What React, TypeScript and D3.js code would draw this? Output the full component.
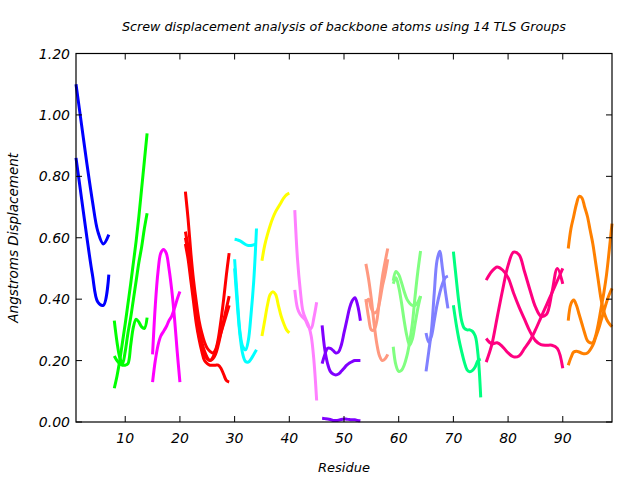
import React from "react";
import * as d3 from "d3";

const TITLE = "Screw displacement analysis of backbone atoms using 14 TLS Groups";
const X_LABEL = "Residue";
const Y_LABEL = "Angstroms Displacement";
const X_TICKS = [10, 20, 30, 40, 50, 60, 70, 80, 90];
const Y_TICKS = [0, 0.2, 0.4, 0.6, 0.8, 1.0, 1.2];

// Group residue ranges [start, end]
const groupRanges: [number, number][] = [
  [1, 7], [8, 14], [15, 20], [21, 29], [30, 34], [35, 40], [41, 45],
  [46, 53], [54, 58], [59, 64], [65, 69], [70, 75], [76, 90], [91, 99],
];
const groupColors = [
  "#0000ff", "#00ff00", "#ff00ff", "#ff0000", "#00ffff", "#ffff00", "#ff80ff",
  "#8000ff", "#ff9980", "#80ff80", "#8080ff", "#00ff80", "#ff0080", "#ff8000",
];

// Values evenly spaced across each group's residue range
const blueA = [1.10, 0.97, 0.84, 0.72, 0.62, 0.58, 0.61];
const blueB = [0.86, 0.73, 0.60, 0.48, 0.39, 0.38, 0.48];

const greenA = [0.11, 0.15, 0.20, 0.26, 0.32, 0.385, 0.45, 0.52, 0.59, 0.67, 0.76, 0.85, 0.94];
const greenB = [0.33, 0.26, 0.21, 0.19, 0.23, 0.29, 0.34, 0.40, 0.46, 0.52, 0.57, 0.63, 0.68];
const greenC = [0.215, 0.20, 0.19, 0.185, 0.185, 0.19, 0.25, 0.31, 0.335, 0.325, 0.31, 0.305, 0.34];

const magA = [0.22, 0.38, 0.49, 0.55, 0.562, 0.55, 0.50, 0.43, 0.34, 0.23, 0.13];
const magB = [0.13, 0.20, 0.25, 0.28, 0.295, 0.31, 0.33, 0.345, 0.37, 0.40, 0.425];

const redA = [0.75, 0.66, 0.55, 0.46, 0.39, 0.33, 0.29, 0.26, 0.24, 0.23, 0.225, 0.235, 0.27, 0.33, 0.40, 0.48, 0.55];
const redB = [0.62, 0.57, 0.50, 0.43, 0.36, 0.30, 0.26, 0.23, 0.21, 0.20, 0.205, 0.22, 0.25, 0.29, 0.33, 0.37, 0.41];
const redC = [0.60, 0.55, 0.48, 0.41, 0.34, 0.28, 0.245, 0.22, 0.205, 0.20, 0.21, 0.23, 0.26, 0.29, 0.32, 0.35, 0.38];
const redD = [0.58, 0.53, 0.46, 0.39, 0.32, 0.27, 0.23, 0.20, 0.19, 0.185, 0.185, 0.185, 0.185, 0.175, 0.155, 0.135, 0.13];

const cyanA = [0.595, 0.593, 0.59, 0.584, 0.578, 0.575, 0.575, 0.577, 0.58];
const cyanB = [0.53, 0.40, 0.29, 0.245, 0.235, 0.265, 0.35, 0.46, 0.63];
const cyanC = [0.50, 0.38, 0.28, 0.22, 0.197, 0.195, 0.205, 0.22, 0.235];

const yelA = [0.525, 0.575, 0.61, 0.64, 0.665, 0.685, 0.70, 0.715, 0.73, 0.74, 0.745];
const yelB = [0.28, 0.33, 0.38, 0.415, 0.424, 0.415, 0.38, 0.345, 0.32, 0.30, 0.29];

const lpA = [0.69, 0.53, 0.43, 0.36, 0.335, 0.315, 0.28, 0.20, 0.07];
const lpB = [0.43, 0.37, 0.35, 0.34, 0.33, 0.31, 0.305, 0.34, 0.39];

const purA = [0.315, 0.235, 0.19, 0.165, 0.156, 0.153, 0.156, 0.165, 0.175, 0.185, 0.192, 0.197, 0.20, 0.20, 0.20];
const purB = [0.19, 0.22, 0.24, 0.24, 0.233, 0.225, 0.228, 0.25, 0.29, 0.33, 0.37, 0.395, 0.405, 0.38, 0.33];
const purC = [0.012, 0.011, 0.01, 0.008, 0.005, 0.005, 0.006, 0.008, 0.01, 0.009, 0.008, 0.007, 0.007, 0.005, 0.004];

const salA = [0.515, 0.465, 0.40, 0.32, 0.255, 0.215, 0.20, 0.205, 0.22];
const salB = [0.40, 0.34, 0.30, 0.30, 0.33, 0.40, 0.47, 0.52, 0.565];
const salC = [0.39, 0.40, 0.37, 0.355, 0.36, 0.39, 0.44, 0.48, 0.53];

const lgA = [0.46, 0.49, 0.48, 0.455, 0.425, 0.40, 0.387, 0.38, 0.38, 0.39, 0.41];
const lgB = [0.245, 0.185, 0.165, 0.168, 0.185, 0.215, 0.26, 0.32, 0.41, 0.49, 0.557];
const lgC = [0.45, 0.47, 0.44, 0.39, 0.33, 0.28, 0.25, 0.27, 0.32, 0.37, 0.41];

const pwA = [0.165, 0.23, 0.30, 0.42, 0.525, 0.556, 0.50, 0.43, 0.37];
const pwB = [0.29, 0.26, 0.28, 0.33, 0.38, 0.42, 0.45, 0.47, 0.475];

const sgA = [0.555, 0.47, 0.39, 0.33, 0.305, 0.30, 0.30, 0.295, 0.28, 0.22, 0.08];
const sgB = [0.38, 0.32, 0.27, 0.23, 0.195, 0.17, 0.164, 0.168, 0.18, 0.20, 0.205];

const dpA = [0.462, 0.49, 0.505, 0.495, 0.47, 0.42, 0.375, 0.335, 0.295, 0.265, 0.252, 0.25, 0.25, 0.24, 0.175];
const dpB = [0.195, 0.25, 0.34, 0.43, 0.51, 0.553, 0.545, 0.49, 0.43, 0.375, 0.345, 0.35, 0.42, 0.50, 0.45];
const dpC = [0.272, 0.255, 0.258, 0.245, 0.225, 0.212, 0.215, 0.24, 0.265, 0.30, 0.34, 0.38, 0.42, 0.46, 0.50];

const orA = [0.565, 0.63, 0.67, 0.71, 0.735, 0.73, 0.70, 0.67, 0.625, 0.58, 0.52, 0.46, 0.40, 0.36, 0.335, 0.32, 0.31];
const orB = [0.33, 0.385, 0.397, 0.38, 0.35, 0.32, 0.29, 0.265, 0.258, 0.258, 0.28, 0.32, 0.37, 0.42, 0.48, 0.56, 0.646];
const orC = [0.185, 0.21, 0.228, 0.23, 0.228, 0.224, 0.222, 0.225, 0.235, 0.25, 0.275, 0.30, 0.33, 0.36, 0.39, 0.415, 0.435];

const groupLines: number[][][] = [
  [blueA, blueB],
  [greenA, greenB, greenC],
  [magA, magB],
  [redA, redB, redC, redD],
  [cyanA, cyanB, cyanC],
  [yelA, yelB],
  [lpA, lpB],
  [purA, purB, purC],
  [salA, salB, salC],
  [lgA, lgB, lgC],
  [pwA, pwB],
  [sgA, sgB],
  [dpA, dpB, dpC],
  [orA, orB, orC],
];

const W = 640, H = 480;
const L = 76, R = 612, T = 53.5, B = 422;
const FONT = "'DejaVu Sans', sans-serif";

export default function App() {
  const x = d3.scaleLinear().domain([1, 99]).range([L, R]);
  const y = d3.scaleLinear().domain([0, 1.2]).range([B, T]);
  const line = d3
    .line<[number, number]>()
    .x((d) => x(d[0]))
    .y((d) => y(d[1]))
    .curve(d3.curveCatmullRom.alpha(0.5));

  const paths: { d: string; color: string; key: string }[] = [];
  groupLines.forEach((lines, gi) => {
    const [s, e] = groupRanges[gi];
    lines.forEach((vals, li) => {
      const step = (e - s) / (vals.length - 1);
      const pts: [number, number][] = vals.map((v, i) => [s + i * step, v]);
      paths.push({ d: line(pts) || "", color: groupColors[gi], key: `${gi}-${li}` });
    });
  });

  const tk = 6;
  return (
    <svg width={W} height={H} style={{ display: "block", position: "absolute", left: 0, top: 0, background: "#fff" }}>
      <rect x={0} y={0} width={W} height={H} fill="#fff" />
      <text x={(L + R) / 2} y={31} textAnchor="middle" fontFamily={FONT} fontStyle="italic" fontSize={12.7} fill="#000">
        {TITLE}
      </text>
      {paths.map((p) => (
        <path key={p.key} d={p.d} fill="none" stroke={p.color} strokeWidth={3} strokeLinejoin="round" strokeLinecap="butt" />
      ))}
      {X_TICKS.map((t) => (
        <g key={"xt" + t}>
          <line x1={x(t)} x2={x(t)} y1={B} y2={B - tk} stroke="#000" />
          <line x1={x(t)} x2={x(t)} y1={T} y2={T + tk} stroke="#000" />
          <text x={x(t)} y={443} textAnchor="middle" fontFamily={FONT} fontStyle="italic" fontSize={14} fill="#000">
            {t}
          </text>
        </g>
      ))}
      {Y_TICKS.map((t) => (
        <g key={"yt" + t}>
          <line x1={L} x2={L + tk} y1={y(t)} y2={y(t)} stroke="#000" />
          <line x1={R} x2={R - tk} y1={y(t)} y2={y(t)} stroke="#000" />
          <text x={70} y={y(t) + 5} textAnchor="end" fontFamily={FONT} fontStyle="italic" fontSize={14} fill="#000">
            {t.toFixed(2)}
          </text>
        </g>
      ))}
      <rect x={L} y={T} width={R - L} height={B - T} fill="none" stroke="#000" strokeWidth={1.2} />
      <text x={(L + R) / 2} y={472} textAnchor="middle" fontFamily={FONT} fontStyle="italic" fontSize={13} fill="#000">
        {X_LABEL}
      </text>
      <text
        transform={`translate(18, ${(T + B) / 2}) rotate(-90)`}
        textAnchor="middle"
        fontFamily={FONT}
        fontStyle="italic"
        fontSize={13.5}
        fill="#000"
      >
        {Y_LABEL}
      </text>
    </svg>
  );
}
